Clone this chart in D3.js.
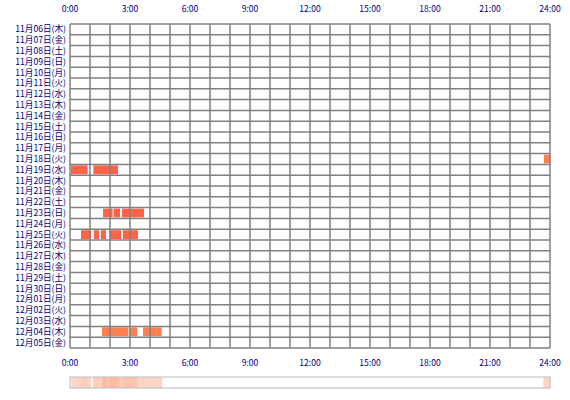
<!DOCTYPE html>
<html><head><meta charset="utf-8">
<script src="https://cdn.jsdelivr.net/npm/d3@7"></script>
<style>body{margin:0;background:#fff}text{font-family:"Noto Sans CJK JP",sans-serif;font-size:8.6px;fill:#000080}</style>
</head><body><div id="chart"></div>
<script>
const days = ["11月06日(木)","11月07日(金)","11月08日(土)","11月09日(日)","11月10日(月)","11月11日(火)","11月12日(水)","11月13日(木)","11月14日(金)","11月15日(土)","11月16日(日)","11月17日(月)","11月18日(火)","11月19日(水)","11月20日(木)","11月21日(金)","11月22日(土)","11月23日(日)","11月24日(月)","11月25日(火)","11月26日(水)","11月27日(木)","11月28日(金)","11月29日(土)","11月30日(日)","12月01日(月)","12月02日(火)","12月03日(水)","12月04日(木)","12月05日(金)"];
const hourTicks = [0,3,6,9,12,15,18,21,24];
// [day index, start hour, end hour, colour]
const sessions = [
  [12, 23.7, 24, "#ff7f50"],
  [13, 0.05, 0.88, "#ff6347"], [13, 1.17, 2.4, "#ff6347"],
  [17, 1.65, 2.13, "#ff6347"], [17, 2.18, 2.5, "#ff6347"], [17, 2.6, 3.7, "#ff6347"],
  [19, 0.55, 1.05, "#ff6347"], [19, 1.2, 1.45, "#ff6347"], [19, 1.55, 1.8, "#ff6347"],
  [19, 1.97, 2.55, "#ff6347"], [19, 2.65, 3.4, "#ff6347"],
  [28, 1.6, 2.92, "#ff7f50"], [28, 2.97, 3.35, "#ff7f50"], [28, 3.65, 4.58, "#ff7f50"]
];

const svg = d3.select("#chart").append("svg").attr("width",570).attr("height",400);
const x = d3.scaleLinear().domain([0,24]).range([70,550]);
const y = d3.scaleBand().domain(days).range([24,348]);

svg.selectAll("rect.s").data(sessions).enter().append("rect")
  .attr("x", d => x(d[1])).attr("width", d => x(d[2]) - x(d[1]))
  .attr("y", d => y(days[d[0]]) + 1).attr("height", y.bandwidth() - 2)
  .attr("fill", d => d[3]);

const g = svg.append("g").attr("stroke","#808080").attr("stroke-width",1.5);
d3.range(25).forEach(h => g.append("line").attr("x1",x(h)).attr("x2",x(h)).attr("y1",24).attr("y2",348));
d3.range(31).forEach(i => { const yy = 24 + i*y.step();
  g.append("line").attr("x1",70).attr("x2",550).attr("y1",yy).attr("y2",yy); });

svg.selectAll("text.d").data(days).enter().append("text")
  .attr("x",66).attr("y", d => y(d) + y.bandwidth()/2 + 3).attr("text-anchor","end").text(d => d);
[12, 366].forEach(ty => svg.selectAll(null).data(hourTicks).enter().append("text")
  .attr("x", d => x(d)).attr("y", ty).attr("text-anchor","middle").text(d => d + ":00"));

// activity density strip
const bins = d3.range(0,24,0.05);
const counts = bins.map(b => sessions.filter(s => s[2] > b && s[1] < b + 0.05).length);
const op = d3.scaleLinear().domain([0, d3.max(counts)]).range([0.2,0.45]);
svg.selectAll("rect.b").data(bins).enter().append("rect")
  .attr("x", d => x(d)).attr("width", x(0.05) - x(0) + 0.3).attr("y",377).attr("height",11)
  .attr("fill","#ff7f50").attr("fill-opacity",(d,i) => counts[i] ? op(counts[i]) : 0);
svg.append("rect").attr("x",70).attr("y",377).attr("width",480).attr("height",11)
  .attr("fill","none").attr("stroke","#bbb");
</script></body></html>
